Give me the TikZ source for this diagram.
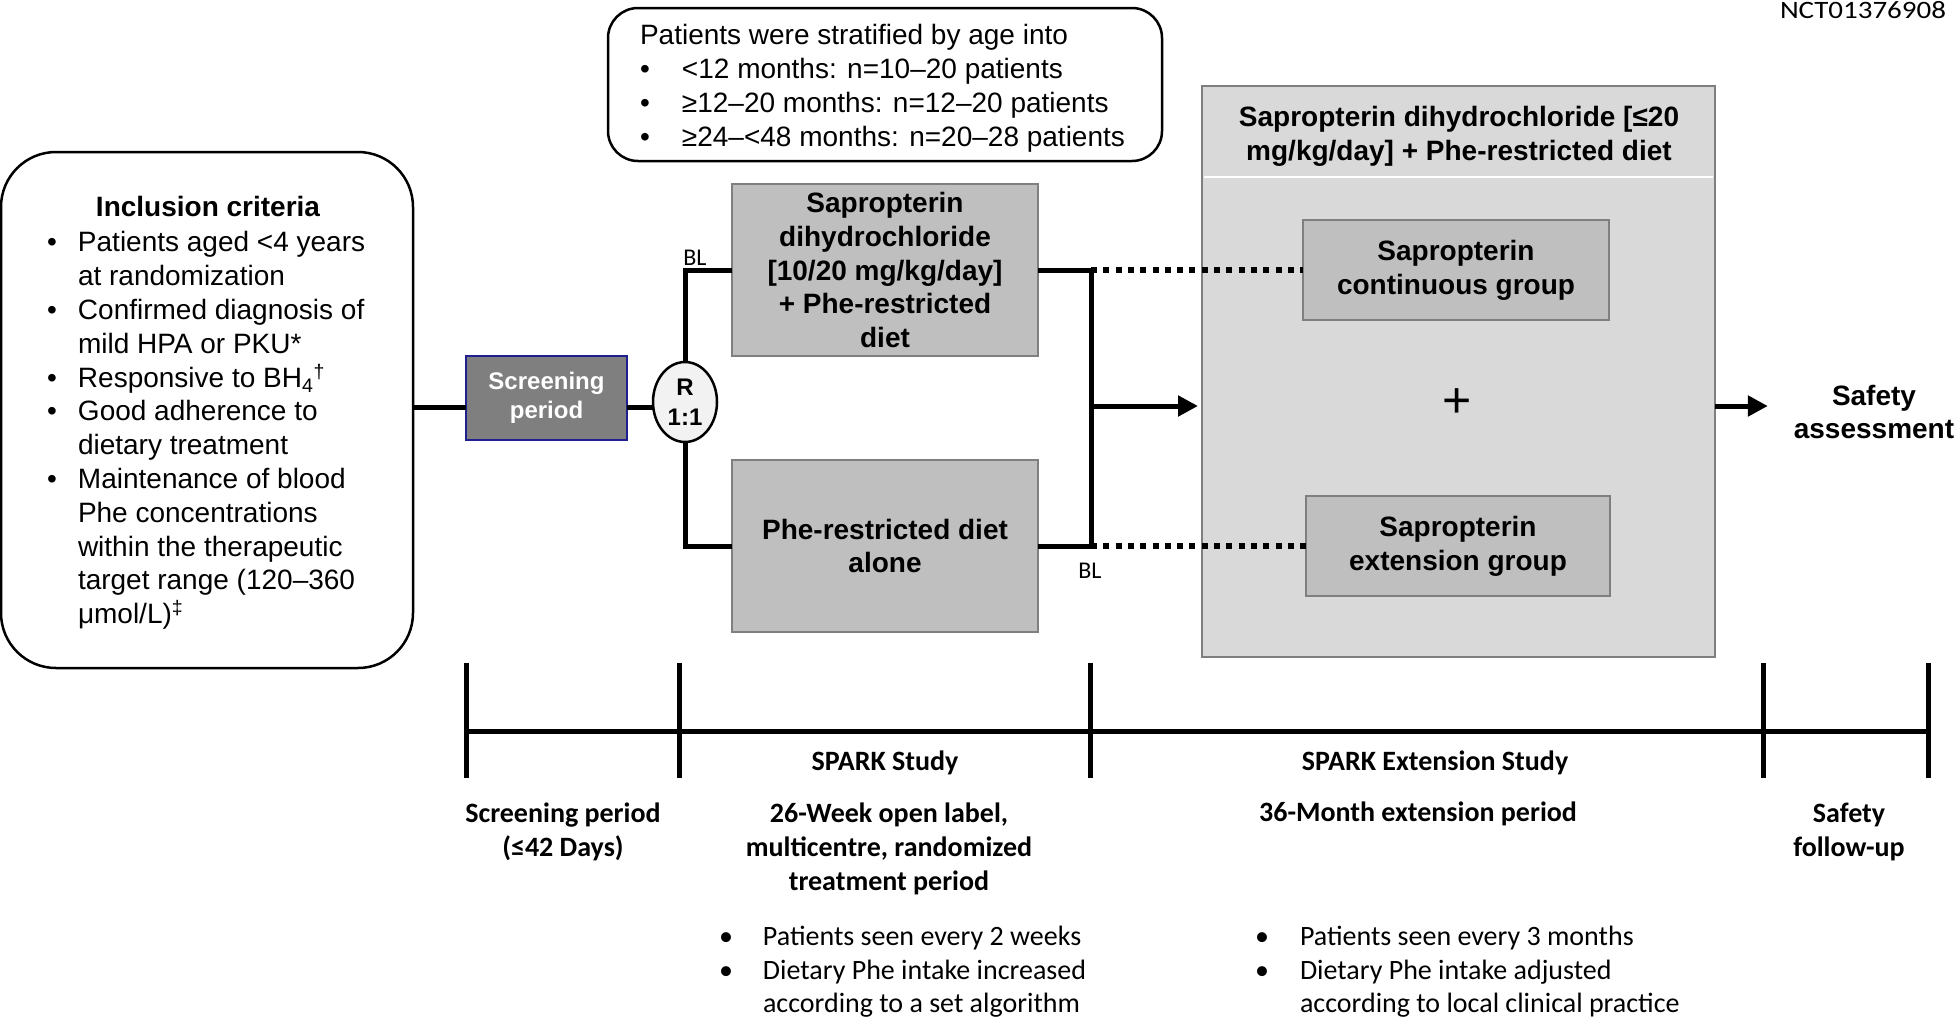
\documentclass[tikz,border=0pt]{standalone}
\usepackage{fontspec}
\setmainfont{Liberation Sans}
\newfontfamily\carl{Carlito}
\newfontfamily\carlwide{Carlito}[FakeStretch=1.16]
\usetikzlibrary{shapes.geometric,arrows.meta}
\definecolor{boxgray}{HTML}{BFBFBF}
\definecolor{biggray}{HTML}{D9D9D9}
\definecolor{edgegray}{HTML}{7F7F7F}
\definecolor{scrgray}{HTML}{7F7F7F}
\definecolor{navyedge}{HTML}{1F1F8F}
\definecolor{ellfill}{HTML}{F2F2F2}
\newcommand{\fsz}[2]{\fontsize{#1pt}{#2pt}\selectfont}
\begin{document}
\begin{tikzpicture}[x=1pt,y=-1pt,
  every node/.style={inner sep=0pt, outer sep=0pt},
  main/.style={font=\fsz{28}{33.8}},
  mainb/.style={font=\fsz{28}{33.8}\bfseries, align=center},
  tl/.style={font=\carl\fsz{28}{34}\bfseries, align=center},
  tlr/.style={font=\carl\fsz{28}{33.5}},
  graybox/.style={draw=edgegray, line width=2.5pt, fill=boxgray},
  conn/.style={line width=5pt},
  dotconn/.style={line width=5.5pt, dash pattern=on 6pt off 6.3pt},
  arr/.style={line width=5pt, -{Triangle[length=20pt,width=20pt]}},
  tickline/.style={line width=5pt},
]
\useasboundingbox (0,0) rectangle (1959,1018);

% top label
\node[font=\carlwide\fsz{25}{30}] (nct) at (1863,10) {NCT01376908};

% stratification box
\node[draw, line width=2.5pt, rounded corners=30pt, minimum width=554pt, minimum height=153pt] (strat) at (885,84.5) {};
\node[main, anchor=north west] (strattext) at (640,21.3) {\begin{tabular}{@{}p{42pt}@{}l@{}}
\multicolumn{2}{@{}l@{}}{Patients were stratified by age into}\\
• & <12 months: n=10–20 patients\\
• & ≥12–20 months: n=12–20 patients\\
• & ≥24–<48 months: n=20–28 patients
\end{tabular}};

% inclusion criteria
\node[draw, line width=2.5pt, rounded corners=55pt, minimum width=412pt, minimum height=516pt] (inc) at (207,410) {};
\node[mainb] (inctitle) at (208,206) {Inclusion criteria};
\node[main, anchor=north west] (inclist) at (47,228.3) {\begin{tabular}{@{}p{31pt}@{}l@{}}
• & Patients aged <4 years\\
  & at randomization\\
• & Confirmed diagnosis of\\
  & mild HPA or PKU*\\
• & Responsive to BH\textsubscript{4}\textsuperscript{†}\\
• & Good adherence to\\
  & dietary treatment\\
• & Maintenance of blood\\
  & Phe concentrations\\
  & within the therapeutic\\
  & target range (120–360\\
  & μmol/L)\textsuperscript{‡}
\end{tabular}};

% screening and randomisation
\node[draw=navyedge, line width=2.5pt, fill=scrgray, minimum width=161pt, minimum height=84pt, text=white, font=\fsz{24}{29}\bfseries, align=center] (scr) at (546.5,398) {Screening\\period};
\node[ellipse, draw, line width=2.5pt, fill=ellfill, minimum width=64pt, minimum height=80pt, font=\fsz{24}{30}\bfseries, align=center] (R) at (685,402) {R\\1:1};

% treatment boxes
\node[graybox, mainb, minimum width=306pt, minimum height=172pt] (up) at (885,270) {Sapropterin\\dihydrochloride\\{}[10/20 mg/kg/day]\\+ Phe-restricted\\diet};
\node[graybox, mainb, minimum width=306pt, minimum height=172pt] (low) at (885,546) {Phe-restricted diet\\alone};

\node[font=\carl\fsz{24}{29}] (bl1) at (695,258) {BL};
\node[font=\carl\fsz{24}{29}] (bl2) at (1090,571) {BL};

% extension study box
\node[draw=edgegray, line width=2.5pt, fill=biggray, minimum width=513pt, minimum height=571pt] (big) at (1458.5,371.5) {};
\draw[white, line width=2pt] (1204,177) -- (1713,177);
\node[mainb] (bighead) at (1459,136) {Sapropterin dihydrochloride [≤20\\mg/kg/day] + Phe-restricted diet};
\node[graybox, mainb, minimum width=306pt, minimum height=100pt] (cont) at (1456,270) {Sapropterin\\continuous group};
\node[graybox, mainb, minimum width=304pt, minimum height=100pt] (ext) at (1458,546) {Sapropterin\\extension group};
\node[font=\fsz{50}{60}] (plus) at (1457,403) {+};

\node[mainb] (sa) at (1874,412) {Safety\\assessment};

% connectors
\coordinate (ly) at (0,407);
\coordinate (mt) at (1091,270);
\coordinate (mb) at (1091,546);
\coordinate (mm) at (1091,406);
\draw[conn] (inc.east |- ly) -- (scr.west |- ly);
\draw[conn] (scr.east |- ly) -- (R.west |- ly);
\draw[conn] (R.north) |- (up.west);
\draw[conn] (R.south) |- (low.west);
\draw[conn] (up.east) -- (mt) -- (mb) -- (low.east);
\draw[arr, shorten >=4pt] (mm) -- (big.west |- mm);
\draw[dotconn] (mt) -- (cont.west);
\draw[dotconn] (mb) -- (ext.west);
\draw[arr, shorten >=26pt] (big.east |- mm) -- (sa.west |- mm);

% timeline
\coordinate (t1) at (466,731);
\coordinate (t2) at (679,731);
\coordinate (t3) at (1090,731);
\coordinate (t4) at (1763,731);
\coordinate (t5) at (1928,731);
\draw[tickline] (t1) -- (t5);
\foreach \t in {t1,t2,t3,t4,t5} \draw[tickline] (\t) ++(0,-68) -- ++(0,115);

\node[tl] (spark) at (885,763) {SPARK Study};
\node[tl] (scrlab) at (563,832) {Screening period\\(≤42 Days)};
\node[tl] (wk26) at (889,849) {26-Week open label,\\multicentre, randomized\\treatment period};
\node[tl] (extst) at (1435,763) {SPARK Extension Study};
\node[tl] (m36) at (1418,814) {36-Month extension period};
\node[tl] (sfu) at (1849,832) {Safety\\follow-up};

\node[tlr, anchor=north west] (bul1) at (719,922.5) {\begin{tabular}{@{}p{44pt}@{}l@{}}
• & Patients seen every 2 weeks\\
• & Dietary Phe intake increased\\
  & according to a set algorithm
\end{tabular}};
\node[tlr, anchor=north west] (bul2) at (1255,922.5) {\begin{tabular}{@{}p{45pt}@{}l@{}}
• & Patients seen every 3 months\\
• & Dietary Phe intake adjusted\\
  & according to local clinical practice
\end{tabular}};
\end{tikzpicture}
\end{document}
